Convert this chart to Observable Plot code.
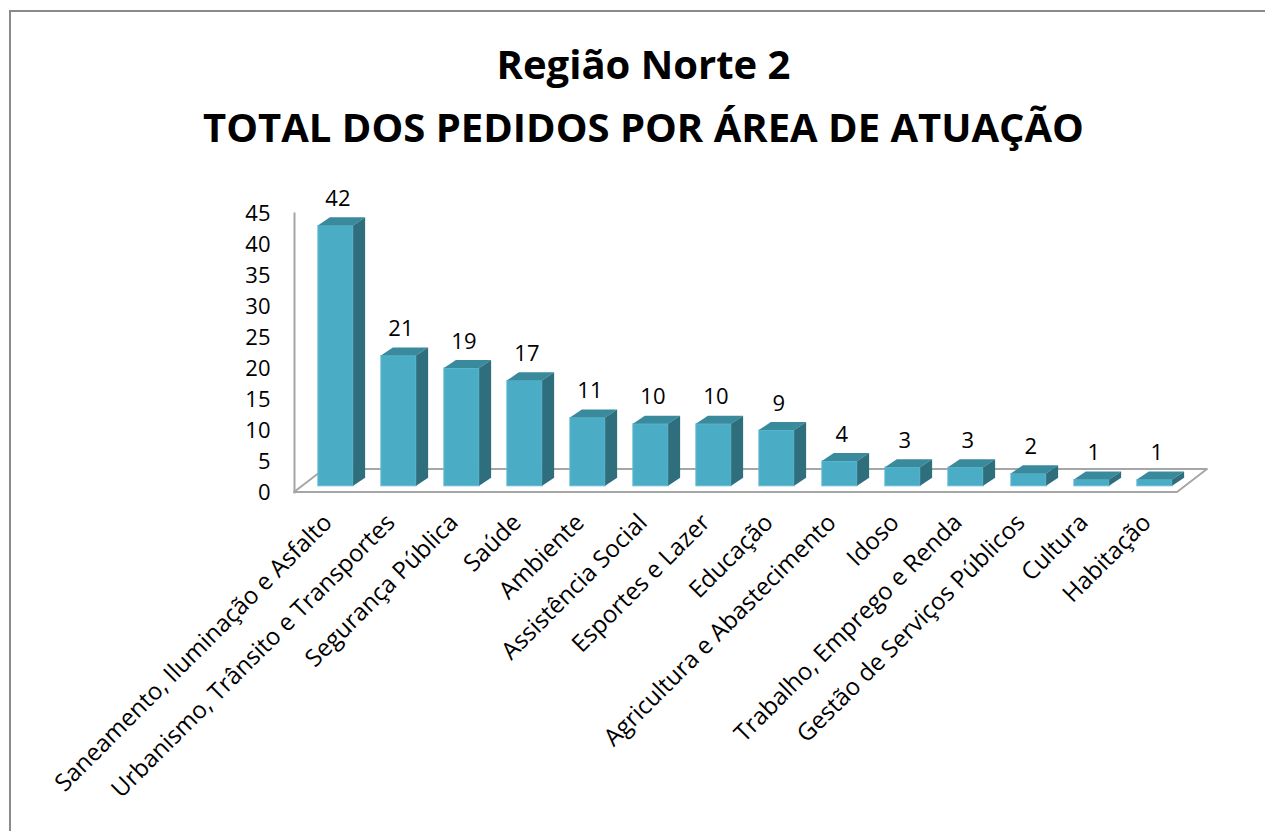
<!DOCTYPE html>
<html><head><meta charset="utf-8">
<script src="https://cdn.jsdelivr.net/npm/d3@7"></script>
<script src="https://cdn.jsdelivr.net/npm/@observablehq/plot@0.6"></script>
<style>
body{margin:0;background:#fff;}
#wrap{position:relative;width:1265px;height:831px;overflow:hidden;font-family:"Open Sans",sans-serif;background:#fff;}
#frame{position:absolute;left:9px;top:10px;width:3000px;height:3000px;border-top:2px solid #8a8a8a;border-left:2px solid #8a8a8a;}
.t{position:absolute;left:0;width:1287px;text-align:center;font-weight:700;color:#000;font-size:40px;line-height:48px;white-space:nowrap;}
#chart{position:absolute;left:0;top:160px;}
#chart svg{overflow:visible;background:transparent;}
</style></head><body>
<div id="wrap"><div id="frame"></div>
<div class="t" style="top:40px">Região Norte 2</div>
<div class="t" style="top:103px">TOTAL DOS PEDIDOS POR ÁREA DE ATUAÇÃO</div>
<div id="chart"></div></div>
<script>
const categories = [
  "Saneamento, Iluminação e Asfalto",
  "Urbanismo, Trânsito e Transportes",
  "Segurança Pública",
  "Saúde",
  "Ambiente",
  "Assistência Social",
  "Esportes e Lazer",
  "Educação",
  "Agricultura e Abastecimento",
  "Idoso",
  "Trabalho, Emprego e Renda",
  "Gestão de Serviços Públicos",
  "Cultura",
  "Habitação"
];
const values = [42, 21, 19, 17, 11, 10, 10, 9, 4, 3, 3, 2, 1, 1];
const yTicks = [0, 5, 10, 15, 20, 25, 30, 35, 40, 45];

// 3D geometry (in scale units)
const halfW = 0.28, base = 1.0, depthX = 0.19, depthY = 1.3;
const xMin = -0.659, xMax = 13.5;
const floorFrontRight = 13.357, floorDepthX = 0.476, floorDepthY = 3.7;

const bars = values.map((v, i) => ({i, v, name: categories[i]}));
const floorPts = [
  {y: 0, x1: xMin, x2: floorFrontRight},
  {y: floorDepthY, x1: xMin + floorDepthX, x2: floorFrontRight + floorDepthX}
];
const topPts = bars.flatMap(d => [
  {i: d.i, y: d.v + base, x1: d.i - halfW, x2: d.i + halfW},
  {i: d.i, y: d.v + base + depthY, x1: d.i - halfW + depthX, x2: d.i + halfW + depthX}
]);
const sidePts = bars.flatMap(d => [
  {i: d.i, x: d.i + halfW, y1: base, y2: d.v + base},
  {i: d.i, x: d.i + halfW + depthX, y1: base + depthY, y2: d.v + base + depthY}
]);

const chart = Plot.plot({
  width: 1265, height: 671,
  marginLeft: 294, marginRight: 79, marginTop: 53, marginBottom: 339,
  style: {fontFamily: '"Open Sans", sans-serif', color: "#000", background: "transparent"},
  x: {type: "linear", domain: [xMin, xMax]},
  y: {domain: [0, 45]},
  marks: [
    Plot.areaX(floorPts, {y: "y", x1: "x1", x2: "x2", fill: "white", stroke: "#a6a6a6", strokeWidth: 2}),
    Plot.frame({anchor: "left", stroke: "#a6a6a6", strokeWidth: 2}),
    Plot.rect(bars, {x1: d => d.i - halfW, x2: d => d.i + halfW, y1: base, y2: d => d.v + base, fill: "#4BACC6", stroke: "#62bbd2", strokeWidth: 1}),
    Plot.areaX(topPts, {y: "y", x1: "x1", x2: "x2", z: "i", fill: "#3A8A9E"}),
    Plot.areaY(sidePts, {x: "x", y1: "y1", y2: "y2", z: "i", fill: "#2F6E7D"}),
    Plot.text(bars, {x: d => d.i + 0.03, y: d => d.v + base, dy: -27, text: d => String(d.v), fontSize: 22, fill: "#000"}),
    Plot.axisY({ticks: yTicks, tickSize: 0, tickPadding: 24, fontSize: 22, label: null}),
    Plot.axisX({ticks: d3.range(categories.length), tickFormat: i => categories[i], tickRotate: -45, tickSize: 0, tickPadding: 26, dx: -8, fontSize: 24, label: null})
  ]
});
document.getElementById("chart").appendChild(chart);
</script>
</body></html>
